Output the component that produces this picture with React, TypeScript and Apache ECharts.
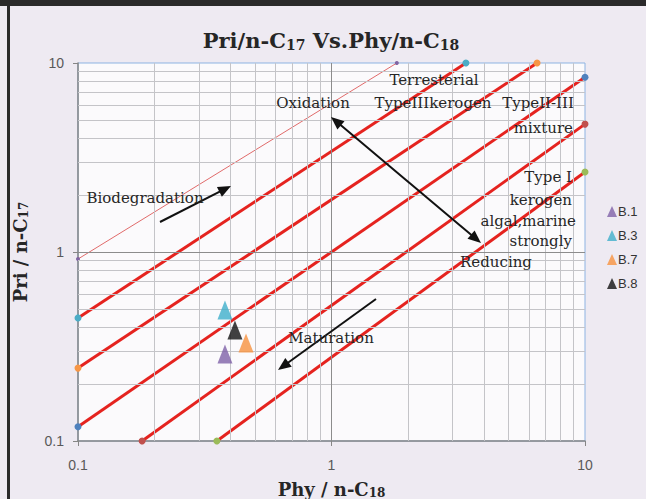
import React, { useEffect, useRef } from "react";
import * as echarts from "echarts";

// ---- data ----
const axisTicks = [0.1, 1, 10];
const minorGrid = [0.2, 0.3, 0.4, 0.5, 0.6, 0.7, 0.8, 0.9, 2, 3, 4, 5, 6, 7, 8, 9];
const majorGrid = [1];

// classification reference lines (start / end points)
const lineStartX = [0.1, 0.1, 0.1, 0.1, 0.179, 0.353];
const lineStartY = [0.918, 0.448, 0.243, 0.119, 0.1, 0.1];
const lineEndX = [1.81, 3.39, 6.47, 10, 10, 10];
const lineEndY = [10, 10, 10, 8.4, 4.75, 2.65];

// samples
const sampleNames = ["B.1", "B.3", "B.7", "B.8"];
const sampleX = [0.38, 0.38, 0.46, 0.416];
const sampleY = [0.289, 0.493, 0.33, 0.387];

// ---- styles ----
const markerColors = ["#8064A2", "#4BACC6", "#F79646", "#4F81BD", "#C0504D", "#9BBB59"];
const sampleColors = ["#7F62A8", "#3FAFCB", "#F7923F", "#111111"];
const serif = "DejaVu Serif";
const sans = "Liberation Sans";

function arrow(x1: number, y1: number, x2: number, y2: number, both: boolean) {
  const L = 13, hw = 5.5;
  const dx = x2 - x1, dy = y2 - y1;
  const len = Math.hypot(dx, dy);
  const ux = dx / len, uy = dy / len;
  const px = -uy, py = ux;
  const els: any[] = [];
  const sx = both ? x1 + ux * (L - 2) : x1;
  const sy = both ? y1 + uy * (L - 2) : y1;
  els.push({
    type: "line",
    shape: { x1: sx, y1: sy, x2: x2 - ux * (L - 2), y2: y2 - uy * (L - 2) },
    style: { stroke: "#111", lineWidth: 2 },
    z: 50,
  });
  const head = (tx: number, ty: number, dirx: number, diry: number) => ({
    type: "polygon",
    shape: {
      points: [
        [tx, ty],
        [tx - dirx * L + px * hw, ty - diry * L + py * hw],
        [tx - dirx * L - px * hw, ty - diry * L - py * hw],
      ],
    },
    style: { fill: "#111" },
    z: 50,
  });
  els.push(head(x2, y2, ux, uy));
  if (both) els.push(head(x1, y1, -ux, -uy));
  return els;
}

function label(text: string, x: number, y: number, align: string = "center") {
  return {
    type: "text",
    x,
    y,
    z: 60,
    style: {
      text,
      fill: "#262626",
      font: `15px "${serif}"`,
      textAlign: align,
      textVerticalAlign: "middle",
    },
  };
}

export default function App() {
  const ref = useRef<HTMLDivElement>(null);
  useEffect(() => {
    if (!ref.current) return;
    const chart = echarts.init(ref.current, null, { renderer: "svg" });
    const nameRich = {
      a: { fontFamily: serif, fontWeight: "bold", fontSize: 18, color: "#262626" },
      s: { fontFamily: serif, fontWeight: "bold", fontSize: 12, color: "#262626", padding: [8, 0, 0, 0] },
    };
    const axisCommon = {
      type: "log",
      logBase: 10,
      min: 0.1,
      max: 10,
      nameLocation: "middle",
      axisLine: { show: true, onZero: false, lineStyle: { color: "#868686", width: 1.5 } },
      axisTick: { show: true, length: 5, lineStyle: { color: "#868686" } },
      splitLine: { show: false },
      minorTick: { show: false },
      nameTextStyle: { rich: nameRich },
    };
    const fmt = (v: number) => {
      const t = axisTicks.find((k) => Math.abs(k - v) / k < 1e-6);
      return t !== undefined ? String(t) : "";
    };
    const lineSeries = lineStartX.map((x0, i) => ({
      type: "line",
      name: "ref" + i,
      data: [
        [x0, lineStartY[i]],
        [lineEndX[i], lineEndY[i]],
      ],
      symbol: "circle",
      symbolSize: i === 0 ? 4 : 7,
      showSymbol: true,
      clip: false,
      silent: true,
      z: 3,
      lineStyle: { color: i === 0 ? "#E06A6A" : "#E5231F", width: i === 0 ? 1 : 3 },
      itemStyle: { color: markerColors[i], borderWidth: 0 },
    }));
    const gridLines = (vals: number[], color: string) =>
      [...vals.map((v) => ({ xAxis: v })), ...vals.map((v) => ({ yAxis: v }))].map((d) => ({
        ...d,
        lineStyle: { color, width: 1, type: "solid" },
      }));
    const option: any = {
      animation: false,
      backgroundColor: "#EEEAF2",
      grid: {
        left: 78,
        top: 63,
        width: 507,
        height: 378,
        show: true,
        outerBoundsMode: "none",
        containLabel: false,
        backgroundColor: "#FBFAFC",
        borderColor: "#8DB3E2",
        borderWidth: 1,
      },
      xAxis: {
        ...axisCommon,
        name: "{a|Phy / n-C}{s|18}",
        nameGap: 38,
        axisLabel: { margin: 17, color: "#595959", fontFamily: sans, fontSize: 14, formatter: fmt },
      },
      yAxis: {
        ...axisCommon,
        name: "{a|Pri / n-C}{s|17}",
        nameGap: 48,
        nameRotate: 90,
        axisLabel: { margin: 14, color: "#595959", fontFamily: sans, fontSize: 14, formatter: fmt },
      },
      legend: {
        orient: "vertical",
        left: 602,
        top: 200,
        itemWidth: 10,
        itemHeight: 11,
        itemGap: 11,
        icon: "triangle",
        data: sampleNames,
        textStyle: { fontFamily: sans, fontSize: 13, color: "#333", padding: [0, 0, 0, -4] },
      },
      graphic: [
        { type: "rect", shape: { x: 0, y: 0, width: 646, height: 6 }, style: { fill: "#2A2A2A" }, z: 0 },
        { type: "rect", shape: { x: 7, y: 0, width: 3, height: 499 }, style: { fill: "#2A2A2A" }, z: 0 },
        {
          type: "text",
          x: 331,
          y: 40,
          z: 60,
          style: {
            text: "{a|Pri/n-C}{s|17}{a| Vs.Phy/n-C}{s|18}",
            textAlign: "center",
            textVerticalAlign: "middle",
            rich: {
              a: { fontFamily: serif, fontWeight: "bold", fontSize: 21, fill: "#262626", color: "#262626" },
              s: { fontFamily: serif, fontWeight: "bold", fontSize: 14, fill: "#262626", color: "#262626", padding: [10, 0, 0, 0] },
            },
          },
        },
        label("Biodegradation", 145, 198),
        label("Oxidation", 313, 103),
        label("Terresterial", 434, 80),
        label("TypeIIIkerogen", 433, 103),
        label("TypeII-III", 538, 103),
        label("mixture", 573, 128, "right"),
        label("Type I", 572, 177, "right"),
        label("kerogen", 572, 200, "right"),
        label("algal,marine", 576, 221, "right"),
        label("strongly", 572, 241, "right"),
        label("Reducing", 496, 262),
        label("Maturation", 331, 338),
        ...arrow(160, 222, 231, 186, false),
        ...arrow(331, 117, 481, 243, true),
        ...arrow(376, 299, 278, 370, false),
      ],
      series: [
        {
          type: "line",
          name: "grid",
          data: [],
          silent: true,
          z: 1,
          markLine: {
            silent: true,
            symbol: "none",
            label: { show: false },
            data: [...gridLines(minorGrid, "#C4C4C8"), ...gridLines(majorGrid, "#8C8C8C")],
          },
        },
        ...lineSeries,
        ...sampleNames.map((n, i) => ({
          type: "scatter",
          name: n,
          data: [[sampleX[i], sampleY[i]]],
          symbol: "triangle",
          symbolSize: [15, 19],
          z: 5,
          itemStyle: { color: sampleColors[i] },
        })),
      ],
    };
    chart.setOption(option);
    return () => chart.dispose();
  }, []);
  return (
    <div
      ref={ref}
      style={{ position: "fixed", left: 0, top: 0, width: 646, height: 499 }}
    />
  );
}
